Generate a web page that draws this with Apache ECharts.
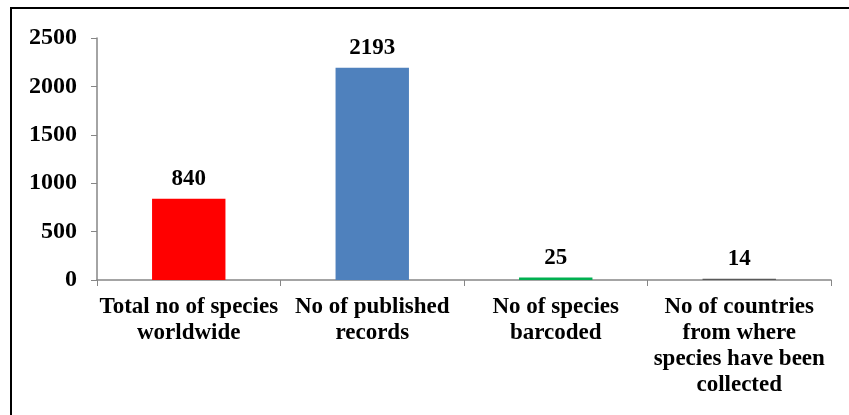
<!DOCTYPE html>
<html>
<head>
<meta charset="utf-8">
<script src="https://cdn.jsdelivr.net/npm/echarts@6/dist/echarts.min.js"></script>
<style>
  html, body { margin: 0; padding: 0; background: #fff; }
  #chart { width: 849px; height: 415px; }
</style>
</head>
<body>
<div id="chart"></div>
<script>
var categories = [
    'Total no of species\nworldwide',
    'No of published\nrecords',
    'No of species\nbarcoded',
    'No of countries\nfrom where\nspecies have been\ncollected'
];
var values = [840, 2193, 25, 14];
var barColors = ['#ff0000', '#4f81bd', '#00b050', '#595959'];

var font = '"Liberation Serif", "Times New Roman", serif';
var myChart = echarts.init(document.getElementById('chart'));

myChart.setOption({
    backgroundColor: '#fff',
    animation: false,
    graphic: [{
        type: 'rect',
        shape: { x: 11, y: 8, width: 900, height: 500 },
        style: { fill: 'none', stroke: '#000', lineWidth: 2 },
        silent: true
    }],
    grid: { left: 97, right: 18, top: 38, bottom: 135 },
    xAxis: {
        type: 'category',
        data: categories,
        axisLine: { lineStyle: { color: '#868686', width: 1.5 } },
        axisTick: { show: true, length: 6, lineStyle: { color: '#868686' } },
        axisLabel: {
            interval: 0,
            margin: 14,
            color: '#000',
            fontFamily: font,
            fontWeight: 'bold',
            fontSize: 23,
            lineHeight: 26
        }
    },
    yAxis: {
        type: 'value',
        min: 0,
        max: 2500,
        interval: 500,
        splitLine: { show: false },
        axisLine: { show: true, lineStyle: { color: '#868686', width: 1.5 } },
        axisTick: { show: true, length: 6, lineStyle: { color: '#868686' } },
        axisLabel: {
            margin: 20,
            color: '#000',
            fontFamily: font,
            fontWeight: 'bold',
            fontSize: 24,
            formatter: function (v) { return String(v); }
        }
    },
    series: [{
        type: 'bar',
        barWidth: '40%',
        data: values.map(function (v, i) {
            return { value: v, itemStyle: { color: barColors[i] } };
        }),
        label: {
            show: true,
            position: 'top',
            distance: 8,
            color: '#000',
            fontFamily: font,
            fontWeight: 'bold',
            fontSize: 23
        }
    }]
});
</script>
</body>
</html>
